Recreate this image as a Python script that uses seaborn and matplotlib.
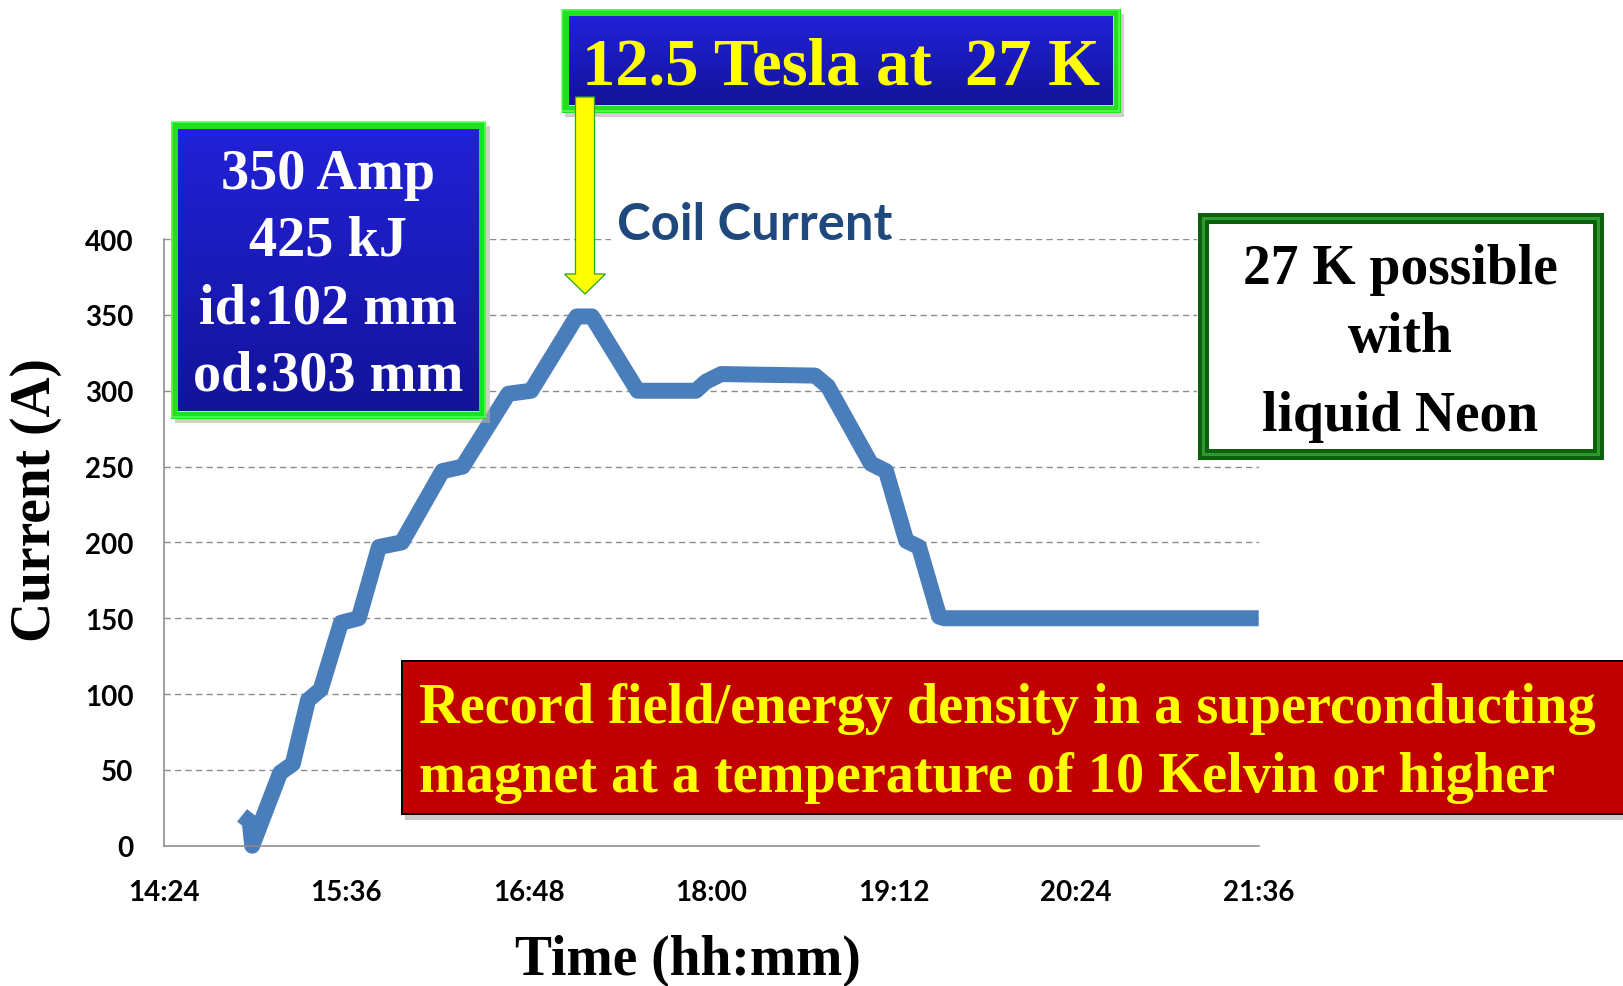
import numpy as np
import pandas as pd
import matplotlib
matplotlib.use("Agg")
import matplotlib.pyplot as plt
import seaborn as sns
from matplotlib.patches import Rectangle, Polygon

# ---------------- data ----------------
clock_times = ["14:55", "14:58", "14:59", "15:10", "15:15", "15:21", "15:26",
               "15:34", "15:41", "15:49", "15:58", "16:14", "16:22", "16:40",
               "16:49", "17:07", "17:13", "17:31", "17:54", "17:58", "18:04",
               "18:41", "18:46", "19:03", "19:09", "19:17", "19:22", "19:30",
               "19:32", "21:36"]
coil_current = [20, 16, 0, 48, 54, 96, 103, 147, 150, 197, 200, 247, 250, 298,
                300, 349, 349, 300, 300, 306, 311, 310, 303, 252, 247, 201, 197,
                151, 150, 150]
x_tick_labels = ["14:24", "15:36", "16:48", "18:00", "19:12", "20:24", "21:36"]
y_ticks = [0, 50, 100, 150, 200, 250, 300, 350, 400]

box1_lines = ["350 Amp", "425 kJ", "id:102 mm", "od:303 mm"]
top_title = "12.5 Tesla at  27 K"
series_label = "Coil Current"
neon_lines = ["27 K possible", "with", "liquid Neon"]
record_lines = ["Record field/energy density in a superconducting",
                "magnet at a temperature of 10 Kelvin or higher"]
y_label = "Current (A)"
x_label = "Time (hh:mm)"

# ---------------- helpers ----------------
W, H = 1623, 987
DPI = 100


def to_min(s):
    h, m = s.split(":")
    return int(h) * 60 + int(m)


t0 = to_min(x_tick_labels[0])
df = pd.DataFrame({"t": [to_min(s) - t0 for s in clock_times],
                   "current": coil_current})
tick_pos = [to_min(s) - t0 for s in x_tick_labels]


def fx(x):
    return x / W


def fy(y):
    return 1 - y / H


def pt(px):
    return px * 72.0 / DPI


sns.set_theme(style="white")
serif = ["Liberation Serif", "DejaVu Serif"]
sans = ["Lato", "DejaVu Sans"]
plt.rcParams["font.family"] = sans

fig = plt.figure(figsize=(W / DPI, H / DPI), dpi=DPI)
fig.patch.set_facecolor("white")

# plot area
x_left, x_right = 163.5, 1258.7
y_top, y_bot = 240.1, 846.7
ax = fig.add_axes([fx(x_left), fy(y_bot), fx(x_right - x_left),
                   (y_bot - y_top) / H])
ax.set_zorder(1)
ax.set_facecolor("none")

sns.lineplot(data=df, x="t", y="current", ax=ax, color="#4A7EBB",
             linewidth=pt(16), sort=False, estimator=None)
for ln in ax.lines:
    ln.set_clip_on(False)
    ln.set_solid_joinstyle("round")
    ln.set_solid_capstyle("butt")

ax.set_xlim(tick_pos[0], tick_pos[-1])
ax.set_ylim(0, 400)
ax.set_xticks(tick_pos)
ax.set_xticklabels(x_tick_labels)
ax.set_yticks(y_ticks)
ax.set_yticklabels([str(v) for v in y_ticks])
ax.set_xlabel("")
ax.set_ylabel("")

grid_col = "#8C8C8C"
for v in y_ticks[1:]:
    ax.axhline(v, color=grid_col, lw=pt(1.4), ls=(0, (4.5, 3.0)), zorder=0.5)

for s in ["top", "right"]:
    ax.spines[s].set_visible(False)
for s in ["left", "bottom"]:
    ax.spines[s].set_color("#8A8A8A")
    ax.spines[s].set_linewidth(pt(1.6))
ax.tick_params(axis="both", direction="out", length=pt(10), width=pt(1.6),
               color="#8A8A8A", labelsize=20, pad=pt(20))
ax.tick_params(axis="x", pad=pt(23))
for lab in ax.get_xticklabels() + ax.get_yticklabels():
    lab.set_fontweight("bold")
    lab.set_color("black")

# ---------------- decorations ----------------


def rect(x0, y0, x1, y1, **kw):
    return Rectangle((fx(x0), fy(y1)), fx(x1 - x0), (y1 - y0) / H,
                     transform=fig.transFigure, **kw)


def gradient_box(x0, y0, x1, y1, c_top, c_bot, z):
    gax = fig.add_axes([fx(x0), fy(y1), fx(x1 - x0), (y1 - y0) / H])
    gax.set_zorder(z)
    top = np.array(matplotlib.colors.to_rgb(c_top))
    bot = np.array(matplotlib.colors.to_rgb(c_bot))
    f = np.linspace(0, 1, 256)[:, None]
    img = top[None, :] * (1 - f) + bot[None, :] * f
    gax.imshow(img[:, None, :], aspect="auto", extent=(0, 1, 0, 1))
    gax.set_axis_off()
    return gax


def framed_blue_box(x0, y0, x1, y1, bw=7):
    fig.add_artist(rect(x0 + 4, y0 + 5, x1 + 4, y1 + 5, facecolor="#B0B0B0",
                        edgecolor="none", alpha=0.6, zorder=2))
    gradient_box(x0 + bw, y0 + bw, x1 - bw, y1 - bw, "#2222D8", "#13139A", 3)
    fig.add_artist(rect(x0 + bw / 2, y0 + bw / 2, x1 - bw / 2, y1 - bw / 2,
                        facecolor="none", edgecolor="#1FE21F", lw=pt(bw),
                        zorder=4))
    fig.add_artist(rect(x0 + 1, y0 + 1, x1 - 1, y1 - 1, facecolor="none",
                        edgecolor="#5CFF5C", lw=pt(1.5), zorder=4.1))


# left blue box
framed_blue_box(170.8, 122, 485.5, 419)
for line, base in zip(box1_lines, [189, 256, 323, 390.7]):
    fig.text(fx(328), fy(base), line, ha="center", va="baseline",
             fontsize=40.5, fontweight="bold", color="white", family=serif,
             zorder=5)

# top blue box
framed_blue_box(561, 9.5, 1120, 113)
fig.text(fx(841), fy(84.5), top_title, ha="center", va="baseline",
         fontsize=48, fontweight="bold", color="#FFFF00", family=serif,
         zorder=5)

# arrow
ax_c, half_shaft, half_head = 585, 9.5, 20.5
arrow_pts = [(ax_c - half_shaft, 98), (ax_c + half_shaft, 98),
             (ax_c + half_shaft, 275), (ax_c + half_head, 275),
             (ax_c, 295), (ax_c - half_head, 275), (ax_c - half_shaft, 275)]
fig.add_artist(Polygon([(fx(x), fy(y)) for x, y in arrow_pts], closed=True,
                       transform=fig.transFigure, facecolor="#FFFF00",
                       edgecolor="#2FA52F", lw=pt(1.3), zorder=6))

# series label
fig.text(fx(616.6), fy(240), series_label, ha="left", va="baseline",
         fontsize=36.5, fontweight="bold", color="#1F497D", family=sans,
         zorder=5,
         bbox=dict(boxstyle="square,pad=0.12", facecolor="white",
                   edgecolor="none"))

# right neon box
fig.add_artist(rect(1197, 213, 1603, 460, facecolor="white", edgecolor="none",
                    zorder=4))
fig.add_artist(rect(1202.5, 218.5, 1597.5, 454.5, facecolor="none",
                    edgecolor="#0C620C", lw=pt(11), zorder=4.2))
fig.add_artist(rect(1202.5, 218.5, 1597.5, 454.5, facecolor="none",
                    edgecolor="#2F9A2F", lw=pt(3), zorder=4.3))
for line, base in zip(neon_lines, [283.6, 352, 430.6]):
    fig.text(fx(1400), fy(base), line, ha="center", va="baseline",
             fontsize=40, fontweight="bold", color="black", family=serif,
             zorder=5)

# red record box
fig.add_artist(rect(405, 667, 1640, 821, facecolor="#A8A8A8",
                    edgecolor="none", alpha=0.6, zorder=3.5))
fig.add_artist(rect(401.5, 661.7, 1640, 815, facecolor="#C00000",
                    edgecolor="black", lw=pt(2), zorder=4))
for line, base in zip(record_lines, [723, 791.7]):
    fig.text(fx(419.5), fy(base), line, ha="left", va="baseline",
             fontsize=40.5, fontweight="bold", color="#FFFF00", family=serif,
             zorder=5)

# axis titles
fig.text(fx(36), fy(500), y_label, rotation=90, ha="center", va="center",
         fontsize=40, fontweight="bold", color="black", family=serif)
fig.text(fx(688), fy(975), x_label, ha="center", va="baseline",
         fontsize=40, fontweight="bold", color="black", family=serif)

fig.savefig("out.png", dpi=DPI, facecolor="white")
